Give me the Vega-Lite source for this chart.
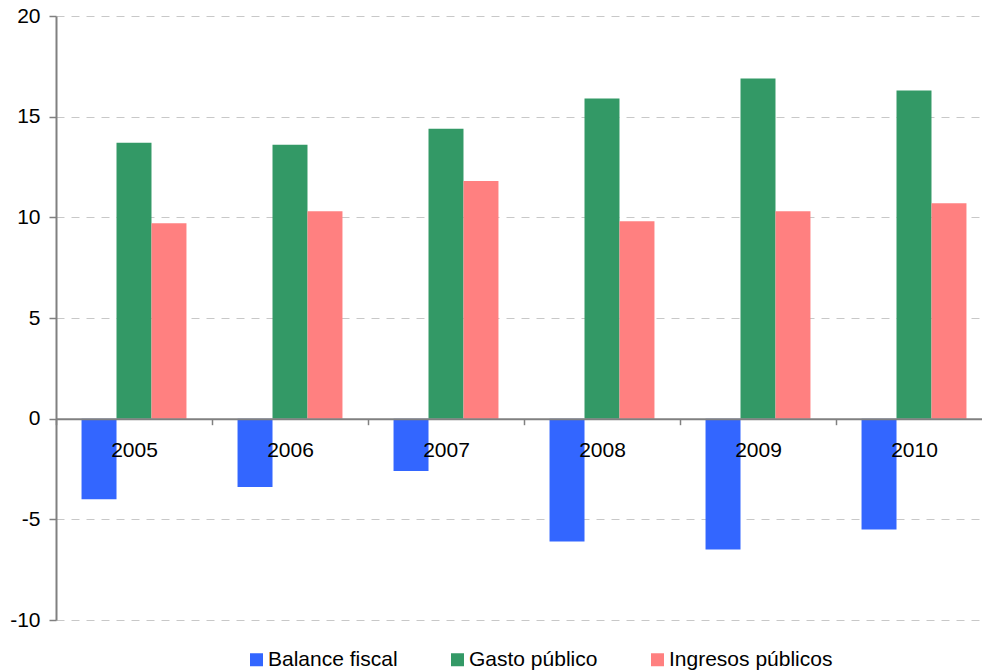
{
  "$schema": "https://vega.github.io/schema/vega-lite/v6.json",
  "width": 936,
  "height": 604,
  "autosize": {"type": "none"},
  "padding": {"left": 56, "top": 16, "right": -10, "bottom": 52},
  "background": "white",
  "config": {
    "view": {"stroke": null},
    "font": "Liberation Sans",
    "axis": {"labelFont": "Liberation Sans", "labelColor": "#000000"},
    "legend": {"labelFont": "Liberation Sans"}
  },
  "data": {
    "values": [
      {"year": "2005", "serie": "Balance fiscal", "value": -4.0},
      {"year": "2005", "serie": "Gasto público", "value": 13.7},
      {"year": "2005", "serie": "Ingresos públicos", "value": 9.7},
      {"year": "2006", "serie": "Balance fiscal", "value": -3.4},
      {"year": "2006", "serie": "Gasto público", "value": 13.6},
      {"year": "2006", "serie": "Ingresos públicos", "value": 10.3},
      {"year": "2007", "serie": "Balance fiscal", "value": -2.6},
      {"year": "2007", "serie": "Gasto público", "value": 14.4},
      {"year": "2007", "serie": "Ingresos públicos", "value": 11.8},
      {"year": "2008", "serie": "Balance fiscal", "value": -6.1},
      {"year": "2008", "serie": "Gasto público", "value": 15.9},
      {"year": "2008", "serie": "Ingresos públicos", "value": 9.8},
      {"year": "2009", "serie": "Balance fiscal", "value": -6.5},
      {"year": "2009", "serie": "Gasto público", "value": 16.9},
      {"year": "2009", "serie": "Ingresos públicos", "value": 10.3},
      {"year": "2010", "serie": "Balance fiscal", "value": -5.5},
      {"year": "2010", "serie": "Gasto público", "value": 16.3},
      {"year": "2010", "serie": "Ingresos públicos", "value": 10.7}
    ]
  },
  "mark": {"type": "bar"},
  "encoding": {
    "x": {
      "field": "year",
      "type": "nominal",
      "scale": {"paddingInner": 0, "paddingOuter": 0},
      "axis": {
        "title": null,
        "orient": "bottom",
        "offset": -201.3,
        "zindex": 1,
        "labelAngle": 0,
        "labelFontSize": 21,
        "labelPadding": 15,
        "tickBand": "extent",
        "tickSize": 6,
        "tickColor": "#808080",
        "tickWidth": 1.5,
        "domainColor": "#808080",
        "domainWidth": 2,
        "grid": false
      }
    },
    "xOffset": {
      "field": "serie",
      "type": "nominal",
      "scale": {"paddingInner": 0, "paddingOuter": 0.73}
    },
    "y": {
      "field": "value",
      "type": "quantitative",
      "scale": {"domain": [-10, 20], "nice": false, "zero": false},
      "axis": {
        "title": null,
        "values": [-10, -5, 0, 5, 10, 15, 20],
        "labelExpr": "toString(datum.value)",
        "labelFontSize": 21,
        "labelPadding": 9,
        "tickSize": 7,
        "tickColor": "#808080",
        "tickWidth": 1.5,
        "domainColor": "#808080",
        "domainWidth": 2,
        "grid": true,
        "gridColor": "#c8c8c8",
        "gridDash": [8, 7],
        "gridWidth": 1
      }
    },
    "color": {
      "field": "serie",
      "type": "nominal",
      "scale": {
        "domain": ["Balance fiscal", "Gasto público", "Ingresos públicos"],
        "range": ["#3366ff", "#339966", "#ff8080"]
      },
      "legend": {
        "title": null,
        "orient": "none",
        "direction": "horizontal",
        "legendX": 190,
        "legendY": 633,
        "symbolType": "square",
        "symbolSize": 169,
        "symbolStrokeWidth": 0,
        "symbolOpacity": 1,
        "labelFontSize": 21,
        "labelOffset": 1,
        "labelLimit": 300,
        "labelColor": "#000000",
        "columnPadding": 49
      }
    }
  }
}
